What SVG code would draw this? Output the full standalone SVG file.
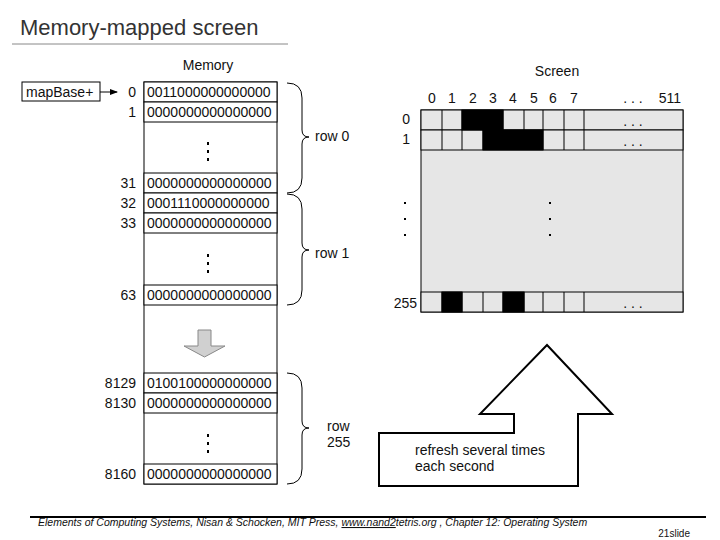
<svg xmlns="http://www.w3.org/2000/svg" width="720" height="540" viewBox="0 0 720 540">
<style>
text{font-family:"Liberation Sans",Arial,sans-serif;font-size:14px;fill:#111}
.r{text-anchor:end}.m{text-anchor:middle}
.c{fill:#fff;stroke:#000;stroke-width:1}
.g{fill:#e6e6e6;stroke:#000;stroke-width:1}
.k{fill:#000;stroke:#000}
.br{fill:none;stroke:#000;stroke-width:1}
</style>
<defs><marker id="ah" markerWidth="8" markerHeight="6" refX="7" refY="3" orient="auto"><path d="M0,0L8,3L0,6z"/></marker></defs>
<g id="title"><text x="20" y="35" style="font-size:22px;fill:#333">Memory-mapped screen</text><line x1="12" y1="44" x2="288" y2="44" stroke="#888"/></g>
<g id="memory">
<text x="208" y="70" class="m">Memory</text>
<rect x="144" y="82" width="133" height="402" class="c"/>
<g class="c"><rect x="144" y="82" width="133" height="20"/><rect x="144" y="102" width="133" height="20"/><rect x="144" y="173" width="133" height="20"/><rect x="144" y="193" width="133" height="20"/><rect x="144" y="213" width="133" height="20"/><rect x="144" y="285" width="133" height="20"/><rect x="144" y="373" width="133" height="20"/><rect x="144" y="393" width="133" height="20"/><rect x="144" y="464" width="133" height="20"/></g>
<g style="font-size:13px">
<text x="147" y="97">0011000000000000</text><text x="147" y="117">0000000000000000</text><text x="147" y="188">0000000000000000</text><text x="147" y="208">0001110000000000</text><text x="147" y="228">0000000000000000</text><text x="147" y="300">0000000000000000</text><text x="147" y="388">0100100000000000</text><text x="147" y="408">0000000000000000</text><text x="147" y="479">0000000000000000</text>
</g>
<g class="r"><text x="136" y="97">0</text><text x="136" y="117">1</text><text x="136" y="188">31</text><text x="136" y="208">32</text><text x="136" y="228">33</text><text x="136" y="300">63</text><text x="136" y="388">8129</text><text x="136" y="408">8130</text><text x="136" y="479">8160</text></g>
<g fill="#000"><rect x="207" y="142" width="2" height="3"/><rect x="207" y="150" width="2" height="3"/><rect x="207" y="158" width="2" height="3"/><rect x="207" y="254" width="2" height="3"/><rect x="207" y="262" width="2" height="3"/><rect x="207" y="270" width="2" height="3"/><rect x="207" y="434" width="2" height="3"/><rect x="207" y="442" width="2" height="3"/><rect x="207" y="450" width="2" height="3"/></g>
</g>
<g id="mapbase"><rect x="22" y="82" width="78" height="19" class="c"/><text x="26" y="97">mapBase+</text></g>
<g id="connectors">
<line x1="100" y1="92" x2="117" y2="92" stroke="#000" marker-end="url(#ah)"/>
<path class="br" d="M287,83 Q302,83 302,98 V130 Q302,137 309,137 Q302,137 302,144 V178 Q302,193 287,193"/>
<path class="br" d="M287,194 Q302,194 302,209 V243 Q302,250 309,250 Q302,250 302,257 V290 Q302,305 287,305"/>
<path class="br" d="M287,373 Q302,373 302,388 V421 Q302,428 309,428 Q302,428 302,435 V469 Q302,484 287,484"/>
<path d="M198,330H211V346H225L204.5,357L184,346H198Z" fill="#d0d0d0" stroke="#888"/>
<path d="M547,345L612,414H578V486H379V433H514V414H480Z" fill="#fff" stroke="#000" stroke-width="2"/>
</g>
<g id="labels"><text x="315" y="141">row 0</text><text x="315" y="258">row 1</text><text x="327" y="431">row</text><text x="327" y="447">255</text>
<text x="415" y="455">refresh several times</text><text x="415" y="471">each second</text></g>
<g id="screen">
<text x="557" y="76" class="m">Screen</text>
<rect x="421" y="110" width="262" height="202" class="g"/>
<g class="g"><rect x="421" y="110" width="262" height="20"/><rect x="421" y="130" width="262" height="20"/><rect x="421" y="292" width="262" height="20"/></g>
<g class="k"><rect x="462" y="110" width="41" height="20"/><rect x="483" y="130" width="60" height="20"/><rect x="442" y="292" width="20" height="20"/><rect x="503" y="292" width="21" height="20"/></g>
<g stroke="#000"><path d="M442,110V150M462,110V150M483,110V150M503,110V150M524,110V150M543,110V150M564,110V150M584,110V150M442,292V312M462,292V312M483,292V312M503,292V312M524,292V312M543,292V312M564,292V312M584,292V312"/></g>
<g class="m"><text x="432" y="103">0</text><text x="452" y="103">1</text><text x="473" y="103">2</text><text x="493" y="103">3</text><text x="513" y="103">4</text><text x="534" y="103">5</text><text x="553" y="103">6</text><text x="574" y="103">7</text><text x="633" y="103">. . .</text><text x="670" y="103">511</text>
<text x="633" y="126">. . .</text><text x="633" y="146">. . .</text><text x="633" y="308">. . .</text></g>
<g class="r"><text x="410" y="124">0</text><text x="410" y="144">1</text><text x="417" y="308">255</text></g>
<g fill="#000"><rect x="404" y="202" width="2" height="2"/><rect x="404" y="218" width="2" height="2"/><rect x="404" y="234" width="2" height="2"/><rect x="549" y="202" width="2" height="2"/><rect x="549" y="218" width="2" height="2"/><rect x="549" y="234" width="2" height="2"/></g>
</g>
<g id="footer"><line x1="30" y1="517" x2="706" y2="517" stroke="#000" stroke-width="2"/>
<text x="38" y="526" style="font-size:10.5px;font-style:italic">Elements of Computing Systems, Nisan &amp; Schocken, MIT Press, <tspan text-decoration="underline">www.nand2</tspan>tetris.org , Chapter 12: Operating System</text>
<text x="690" y="537" class="r" style="font-size:10px">21slide</text></g>
</svg>
